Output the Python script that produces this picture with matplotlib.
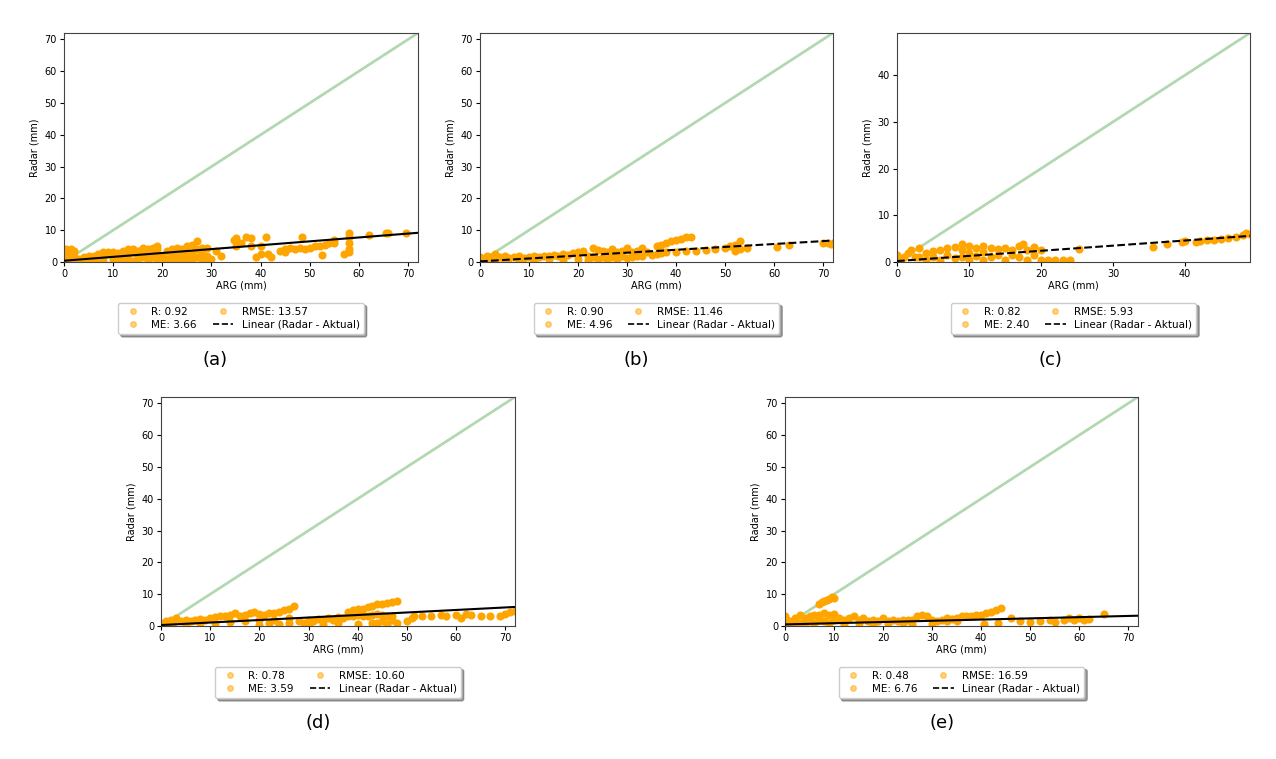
import numpy as np
import matplotlib.pyplot as plt
from matplotlib.lines import Line2D

# scatter points (ARG, Radar)
a_x = [0, 0, 0, 0.5, 1, 1, 1.5, 2, 2, 2,
       3, 3, 4, 4, 5, 5, 6, 6, 7, 7, 8, 8, 8, 9, 9, 10, 10, 10, 11, 11,
       12, 12, 12, 13, 13, 13, 14, 14, 14, 15, 15, 15, 16, 16, 16, 17, 17, 17,
       18, 18, 18, 19, 19, 19, 19,
       20, 20, 21, 21, 22, 22, 22, 23, 23, 23, 24, 24, 24, 25, 25, 25, 26, 26, 26,
       27, 27, 27, 28, 28, 28, 29, 29, 29, 30, 32, 31,
       34.5, 35, 35, 36, 37, 38, 38, 39, 40, 40, 41, 41.5, 42,
       44, 45, 45, 46, 47, 48, 48.5, 49, 50, 51, 52, 52.5, 53, 54, 55, 55,
       57, 58, 58, 58, 58, 58, 62, 65.5, 66, 69.5]
a_y = [0.5, 1.5, 2.5, 4, 3, 1, 4, 3.5, 2, 0.5,
       1, 0.3, 1.5, 0.5, 1.2, 2, 1.8, 0.5, 2.5, 1, 3, 1.5, 0.3, 2.5, 3.2, 3, 1.8, 0.5, 2.8, 1.2,
       3.5, 2, 0.5, 4, 2.8, 1, 4.2, 3, 0.3, 3.5, 2, 0.8, 4.5, 3, 1.5, 4.2, 2.5, 0.5,
       4.5, 3.5, 1.5, 5, 4, 2.5, 0.5,
       2, 0.5, 3.5, 1, 4, 2, 0.3, 4.5, 3, 1, 4, 2, 0.5, 5, 3, 1, 5.5, 2.5, 0.5,
       6.5, 4, 1.5, 4.5, 2.5, 0.5, 4.5, 2, 1, 1, 2, 3.5,
       7, 7.5, 5, 6, 8, 7.5, 5, 1.5, 2.5, 5, 8, 2.5, 1.5,
       3.5, 4, 3.2, 4.5, 4, 4.5, 8, 4.2, 4.5, 5, 5, 2.2, 5.5, 6, 6, 7,
       2.5, 3, 4, 6, 8, 9, 8.5, 9, 9, 9]

b_x = [0, 0.5, 1, 1.5, 2, 2.5, 3, 3,
       4, 5, 6, 7, 8, 9, 10, 11, 12, 13, 14, 15, 16, 17, 18, 19,
       5, 8, 11, 14, 17, 20, 20, 21, 22, 22, 23, 23, 24, 24, 25, 25, 26, 26,
       27, 27, 28, 28, 29, 29, 30, 30, 31, 31, 32, 32, 33, 33, 34, 35, 36, 37, 38,
       36, 37, 38, 39, 40, 41, 42, 43,
       40, 42, 44, 46, 48, 50, 51, 52, 53, 53, 52,
       54.5, 60.5, 63, 70, 71, 71.5]
b_y = [1.5, 0.5, 1, 2, 1.5, 0.5, 2.5, 1,
       1.5, 2, 1.2, 1.5, 1.8, 1.2, 1.5, 2, 1.5, 2, 1.8, 2.2, 2, 2.5, 2.2, 2.8,
       0.3, 0.5, 0.3, 0.8, 0.5, 3, 1, 3.5, 2, 0.5, 4.5, 1.5, 3.8, 0.8, 3.5, 1.5, 3, 1,
       4, 1.5, 3, 1, 3.5, 1.8, 4.5, 1.2, 3, 1.5, 3.5, 2, 4.5, 1.8, 3, 2.2, 2.5, 2.8, 3,
       5, 5.5, 6, 6.5, 7, 7.2, 7.8, 8,
       3, 3.5, 3.5, 3.8, 4, 4.5, 5, 5.5, 6.5, 4, 3.5,
       4.5, 4.8, 5.2, 6, 6, 5.8]

c_x = [0, 0.5, 1, 1.5, 2, 2.5, 3,
       3, 4, 4, 5, 5, 6, 6, 7, 7, 8, 8, 9, 9, 9, 10, 10, 10, 11, 11, 12, 12, 12,
       13, 13, 14, 14, 15, 15, 16, 16, 17, 17, 17.5, 18, 18, 19, 19, 20,
       20, 21, 22, 23, 24,
       25.3, 35.5, 37.5, 39.5, 40, 41.5, 42, 43, 44, 45, 46, 47, 48, 48.5, 49]
c_y = [1.5, 0.5, 1, 2, 2.5, 1, 3,
       1, 2, 0.5, 2.3, 1, 2.5, 0.5, 3, 1.5, 3.2, 0.8, 3.8, 2.5, 1, 3.5, 2, 0.5, 3, 1.2, 3.5, 2.2, 0.5,
       3, 1, 2.8, 1.5, 3, 0.5, 2.5, 1.5, 3.5, 1, 3.8, 2.5, 0.5, 3.2, 1.5, 2.5,
       0.5, 0.5, 0.4, 0.5, 0.5,
       2.7, 3.2, 3.9, 4.2, 4.5, 4.3, 4.6, 4.7, 4.8, 5, 5.2, 5.4, 5.8, 6.2, 6]

d_x = [0, 0.5, 1, 1.5, 2, 2.5, 3,
       4, 5, 6, 7, 8, 9, 10, 11, 12, 13, 14, 15, 16, 17, 18, 19, 20, 21, 22, 23, 24, 25, 26, 27,
       5, 8, 11, 14, 17, 20, 23, 26,
       20, 22, 24, 26, 28, 29, 30, 31, 32, 33, 34, 35, 36, 37, 38, 39, 40, 41, 42, 43, 44, 45, 46, 47,
       30, 33, 36, 40, 44,
       38, 39, 40, 41, 42, 43, 44, 45, 46, 47, 48,
       43, 45, 46, 47, 48, 50, 51, 51.5,
       53, 55, 57, 58, 60, 61, 62, 63, 65, 67, 69, 70, 71, 72]
d_y = [1, 0.5, 1.5, 1, 2, 1, 2.5,
       1.5, 2, 1.5, 2, 2.2, 2, 2.5, 2.8, 3, 3.2, 3.5, 4, 3.2, 3.5, 4, 4.5, 3.8, 3.5, 4, 4.2, 4.5, 5, 5.5, 6.3,
       0.5, 1, 0.8, 1.2, 1.5, 1.8, 2, 2.5,
       0.3, 0.8, 0.5, 1, 1.5, 0.8, 2, 1.5, 2.2, 1.8, 2.5, 2, 2.8, 2.5, 3, 3.2, 3.5, 3, 3.2, 3.5, 3.8, 3.5, 3.2, 3,
       0.3, 0.5, 1, 0.5, 0.8,
       4.5, 5, 5.2, 5.5, 6, 6.3, 6.8, 7, 7.2, 7.5, 7.8,
       1, 1.5, 0.5, 2, 1, 1.5, 2.5, 3,
       3.2, 3.3, 3.4, 3.3, 3.5, 2.5, 3.8, 3.5, 3, 3, 3.3, 3.8, 4.5, 4.8]

e_x = [0, 0, 0.5, 1, 1.5, 2, 2.5, 3,
       3, 4, 4, 5, 5, 6, 6, 7, 7, 8, 8, 9, 9, 10, 10,
       7, 7.5, 8, 8.5, 9, 9.5, 10,
       11, 12, 13, 14, 15, 16, 17, 18, 19, 20, 21, 22, 23, 24, 25, 26,
       12, 15, 18, 21, 24,
       27, 28, 29, 30, 31, 32, 33, 34, 35, 36, 37, 38, 39, 40, 41, 42, 43, 44,
       26, 30, 33, 35, 40.5, 43.5,
       46, 48, 50, 52, 54, 55, 57, 58, 59, 60, 61, 62, 65]
e_y = [3, 1, 2, 0.5, 1.5, 2.5, 1, 3.5,
       1, 2.5, 0.5, 3, 1.5, 3.5, 1, 3.5, 2, 4, 1.5, 3.5, 1, 3.8, 2,
       7, 7.5, 7.8, 8.2, 8.5, 9, 8.8,
       2.5, 2, 2.5, 3, 2, 2.5, 1.5, 2, 1.5, 2.5, 1.5, 2, 1.5, 2, 1.8, 2,
       0.5, 0.8, 0.5, 1, 0.8,
       3, 3.5, 3.2, 2, 1.5, 2, 2.5, 2.2, 2.5, 3, 3.2, 3.2, 3.5, 3.5, 4, 4.5, 5, 5.8,
       0.5, 0.5, 1.5, 1.5, 0.5, 1,
       2.5, 1.5, 1.2, 1.5, 1.8, 1.2, 2, 2.5, 2, 2.5, 2, 2.2, 3.8]

# linear fit lines (slope, intercept)
fit_slope = [0.122, 0.091, 0.110, 0.079, 0.038]
fit_icept = [0.4, 0.2, 0.2, 0.3, 0.5]
axis_max = [72, 72, 49, 72, 72]

stat_R = ['0.92', '0.90', '0.82', '0.78', '0.48']
stat_ME = ['3.66', '4.96', '2.40', '3.59', '6.76']
stat_RMSE = ['13.57', '11.46', '5.93', '10.60', '16.59']
panel_tags = ['(a)', '(b)', '(c)', '(d)', '(e)']
fit_style = ['-', '--', '--', '-', '-']

xs = [a_x, b_x, c_x, d_x, e_x]
ys = [a_y, b_y, c_y, d_y, e_y]

W, H = 1276, 759
# axes boxes in pixels: left, top, right, bottom
boxes = [(64, 33, 418, 262), (480, 33, 833, 262), (897, 33, 1250, 262),
         (161, 397, 515, 626), (785, 397, 1138, 626)]
tag_pos = [(215, 360), (636, 360), (1050, 360), (318, 723), (942, 723)]

fig = plt.figure(figsize=(W / 100, H / 100), dpi=100)

for i in range(5):
    l, t, r, b = boxes[i]
    ax = fig.add_axes([l / W, 1 - b / H, (r - l) / W, (b - t) / H])
    m = axis_max[i]
    ax.scatter(xs[i], ys[i], s=34, color='orange', linewidths=0, zorder=2)
    ax.plot([0, m], [0, m], color='green', alpha=0.3, lw=2, zorder=1)
    fx = np.array([0, m])
    ax.plot(fx, fit_slope[i] * fx + fit_icept[i], color='k', ls=fit_style[i], lw=1.5, zorder=3)
    ax.set_xlim(0, m)
    ax.set_ylim(0, m)
    ax.set_xlabel('ARG (mm)', fontsize=7, labelpad=1)
    ax.set_ylabel('Radar (mm)', fontsize=7)
    ax.tick_params(labelsize=7, length=3, pad=2)
    for sp in ax.spines.values():
        sp.set_color('#444444')

    h_r = Line2D([], [], ls='', marker='o', color='orange', alpha=0.5, markersize=4)
    h_me = Line2D([], [], ls='', marker='o', color='orange', alpha=0.5, markersize=4)
    h_rmse = Line2D([], [], ls='', marker='o', color='orange', alpha=0.5, markersize=4)
    h_lin = Line2D([], [], color='k', ls='--', lw=1.2)
    ax.legend([h_r, h_me, h_rmse, h_lin],
              ['R: ' + stat_R[i], 'ME: ' + stat_ME[i], 'RMSE: ' + stat_RMSE[i], 'Linear (Radar - Aktual)'],
              ncol=2, fontsize=7.5, loc='upper center', bbox_to_anchor=(0.5, -0.155),
              shadow=True, fancybox=True, handlelength=2, columnspacing=1.5,
              borderpad=0.4, labelspacing=0.3)

    tx, ty = tag_pos[i]
    fig.text(tx / W, 1 - ty / H, panel_tags[i], fontsize=13, ha='center', va='center')

fig.savefig('out.png', dpi=100)
